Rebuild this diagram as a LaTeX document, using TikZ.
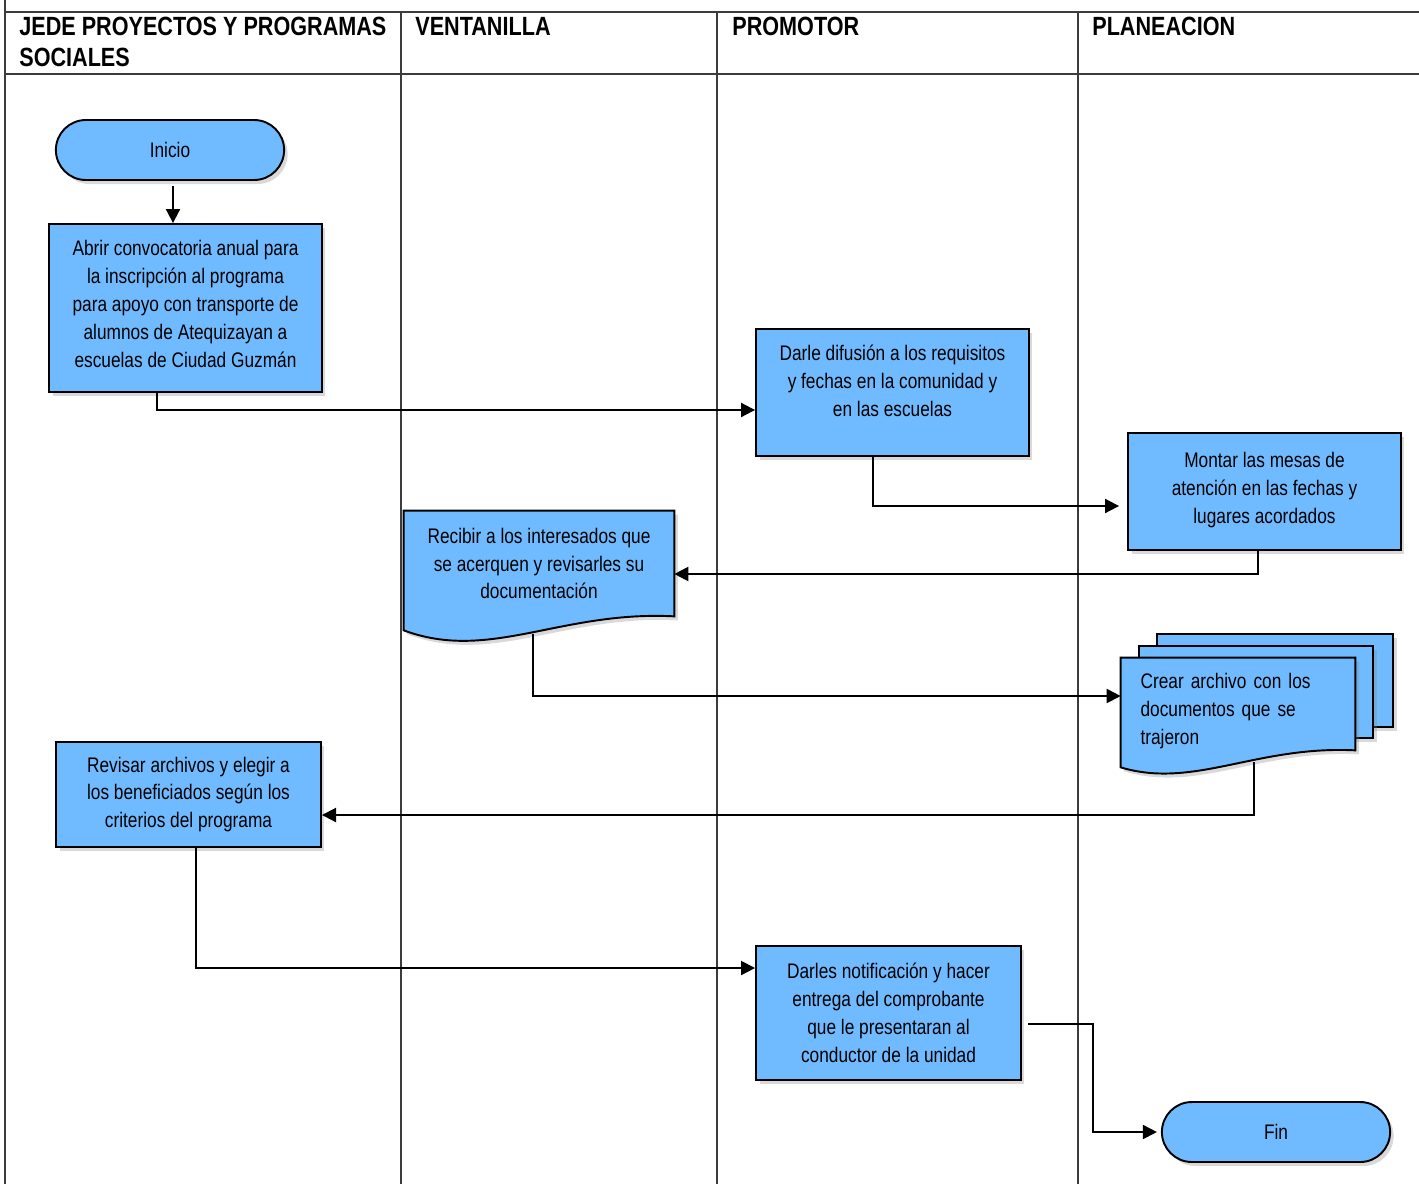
\documentclass[tikz,border=0pt]{standalone}
\usepackage{fontspec}
\setmainfont{Liberation Sans}[FakeStretch=0.82]
\usetikzlibrary{positioning,calc,shapes.misc,shadows,backgrounds,arrows.meta}
\definecolor{FlowBlue}{RGB}{112,187,255}
\definecolor{LaneGray}{RGB}{60,60,60}
\tikzset{
  lane/.style={draw=LaneGray,line width=0.8pt},
  head/.style={anchor=north west,inner sep=0pt,align=left,font=\bfseries\fontsize{15}{17.6}\selectfont},
  boxshadow/.style={drop shadow={shadow xshift=0.07cm,shadow yshift=-0.08cm,opacity=0.3}},
  proc/.style={draw=black,fill=FlowBlue,line width=1.1pt,boxshadow,align=center,font=\fontsize{12}{15.9}\selectfont},
  term/.style={proc,rounded rectangle,minimum width=4.8cm,minimum height=1.2cm},
}
\tikzset{docbox/.style={inner sep=0pt,font=\fontsize{12}{15.9}\selectfont}, sheet/.style={draw=black,fill=FlowBlue,line width=1.1pt,boxshadow}, flow/.style={draw=black,line width=1.1pt,-{Triangle[length=8pt,width=8pt]}}}

\begin{document}
\begin{tikzpicture}[x=0.02cm,y=-0.02cm]
\useasboundingbox (0,0) rectangle (1419,1184);
% lanes
\draw[lane] (5,0) -- (5,1184);
\draw[lane] (5,12) -- (1419,12);
\draw[lane] (5,74) -- (1419,74);
\foreach \x in {401,717,1078} \draw[lane] (\x,12) -- (\x,1184);
\node[head] (hjefe) at (19,17) {JEDE PROYECTOS Y PROGRAMAS\\SOCIALES};
\node[head] (hvent) at (415,17) {VENTANILLA};
\node[head] (hprom) at (732,17) {PROMOTOR};
\node[head] (hplan) at (1092,17) {PLANEACION};
% steps
\node[term] (inicio) at (170,150) {Inicio};
\node[proc,minimum width=5.46cm,minimum height=3.36cm] (abrir) at (185.5,308) {Abrir convocatoria anual para\\la inscripción al programa\\para apoyo con transporte de\\alumnos de Atequizayan a\\escuelas de Ciudad Guzmán\\[-0.4cm]\mbox{}};
\node[proc,minimum width=5.46cm,minimum height=2.54cm] (darle) at (892.5,392.5) {Darle difusión a los requisitos\\y fechas en la comunidad y\\en las escuelas\\[-0.08cm]\mbox{}};
\node[proc,minimum width=5.46cm,minimum height=2.34cm] (montar) at (1264.5,491.5) {Montar las mesas de\\atención en las fechas y\\lugares acordados\\[-0.4cm]\mbox{}};
\node[docbox,align=center,minimum width=5.4cm,minimum height=2.1cm] (recibir) at (539,563.5) {Recibir a los interesados que\\se acerquen y revisarles su\\documentación};
\node[docbox,align=left,text width=3.9cm,minimum width=4.68cm,minimum height=1.84cm] (crear) at (1238,704) {\mbox{}\\[0.02cm]Crear archivo con los\\documentos que se\\trajeron};
\node[proc,minimum width=5.3cm,minimum height=2.1cm] (revisar) at (188.5,794.5) {Revisar archivos y elegir a\\los beneficiados según los\\criterios del programa};
\node[proc,minimum width=5.3cm,minimum height=2.68cm] (darles) at (888.5,1013) {Darles notificación y hacer\\entrega del comprobante\\que le presentaran al\\conductor de la unidad};
\node[term] (fin) at (1276,1132) {Fin};
% document shapes
\begin{scope}[on background layer]
\filldraw[sheet] (recibir.north west) -- (recibir.north east) -- (recibir.south east) .. controls +(-114,-6) and +(86,32) .. ($(recibir.south west)+(0,14)$) -- cycle;
\filldraw[sheet] ($(crear.north west)+(36,-24)$) rectangle ($(crear.south east)+(38,-23)$);
\filldraw[sheet] ($(crear.north west)+(18,-12)$) rectangle ($(crear.south east)+(18,-12)$);
\filldraw[sheet] (crear.north west) -- (crear.north east) -- (crear.south east) .. controls +(-99,-5) and +(73,22) .. ($(crear.south west)+(0,17)$) -- cycle;
\end{scope}
% connectors
\draw[flow,shorten <=0.1cm] ([xshift=0.06cm]inicio.south) -- ([xshift=0.06cm]inicio.south |- abrir.north);
\draw[flow] ([xshift=-0.57cm]abrir.south) |- ([yshift=-0.35cm]darle.west);
\draw[flow,shorten >=0.16cm] ([xshift=-0.39cm]darle.south) |- ([yshift=-0.29cm]montar.west);
\draw[flow] ([xshift=-0.13cm]montar.south) |- ([yshift=-0.21cm]recibir.east);
\draw[flow] ([xshift=-0.12cm,yshift=-0.36cm]recibir.south) |- ([yshift=0.16cm]crear.west);
\draw[flow] ([xshift=0.32cm,yshift=-0.24cm]crear.south) |- ([yshift=-0.41cm]revisar.east);
\draw[flow] ([xshift=0.15cm]revisar.south) |- ([yshift=0.9cm]darles.west);
\draw[flow,shorten >=0.08cm] ([xshift=0.12cm,yshift=-0.22cm]darles.east) -- ++(1.3cm,0) |- (fin.west);
\end{tikzpicture}
\end{document}
